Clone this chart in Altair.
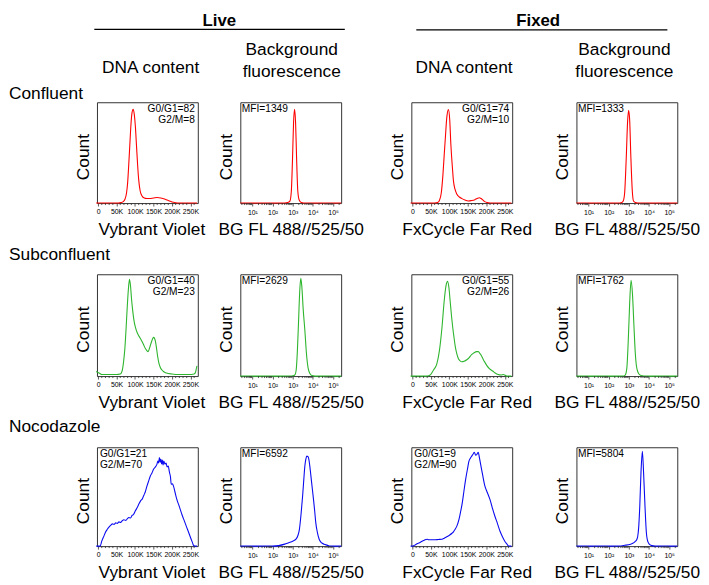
import math
import altair as alt
import pandas as pd

FONT = "Liberation Sans"

# ---------------- labels / text ----------------
ROW_NAMES = ["Confluent", "Subconfluent", "Nocodazole"]
ROW_COLORS = ["#ff0000", "#2db52d", "#0a0af0"]
GROUP_NAMES = ["Live", "Fixed"]
COL_TITLES = [["DNA content"], ["Background", "fluorescence"],
              ["DNA content"], ["Background", "fluorescence"]]
X_TITLES = ["Vybrant Violet", "BG FL 488//525/50", "FxCycle Far Red", "BG FL 488//525/50"]
COL_KIND = ["dna", "bg", "dna", "bg"]
ANNOT = [
    [["G0/G1=82", "G2/M=8"], ["MFI=1349"], ["G0/G1=74", "G2/M=10"], ["MFI=1333"]],
    [["G0/G1=40", "G2/M=23"], ["MFI=2629"], ["G0/G1=55", "G2/M=26"], ["MFI=1762"]],
    [["G0/G1=21", "G2/M=70"], ["MFI=6592"], ["G0/G1=9", "G2/M=90"], ["MFI=5804"]],
]

# ---------------- axes ----------------
DNA_DOMAIN = [-3, 270]          # thousands
BG_DOMAIN = [0.4, 5.4]          # decades (log10)
DNA_TICKS = [0, 50, 100, 150, 200, 250]
DNA_MINOR = [v for v in range(10, 270, 10) if v % 50 != 0]
BG_TICKS = [1, 2, 3, 4, 5]
BG_MINOR = [round(d + math.log10(m), 4) for d in range(0, 6) for m in range(2, 10)
            if BG_DOMAIN[0] <= d + math.log10(m) <= BG_DOMAIN[1]]

# ---------------- histogram data (x: K or decades, y: % of max height) ----------------
# Confluent
x_conf_live_dna = [-5, 0, 55, 62, 68, 73, 77, 80, 83, 86, 89, 92, 95, 98, 101, 104, 107, 110, 114, 119,
                   125, 132, 140, 150, 160, 170, 180, 190, 200, 210, 220, 268]
y_conf_live_dna = [0, 0, 0, 0.5, 1.5, 4, 10, 20, 38, 58, 78, 90, 93, 88, 76, 57, 38, 23, 12, 7,
                   5, 4.5, 4.5, 5, 5.5, 5, 4, 2.5, 1, 0.3, 0, 0]
x_conf_live_bg = [0.4, 2.6, 2.75, 2.86, 2.93, 2.99, 3.04, 3.09, 3.14, 3.19, 3.25, 3.32, 3.42, 3.55, 5.4]
y_conf_live_bg = [0, 0, 0.5, 2, 12, 45, 80, 93, 80, 45, 12, 3, 0.5, 0, 0]
x_conf_fix_dna = [-5, 0, 60, 68, 73, 78, 82.5, 86, 89.5, 93, 97.5, 101, 104, 108, 111, 115, 120, 127, 134, 142,
                  151, 160, 169, 175, 181, 186, 192, 197, 202, 210, 268]
y_conf_fix_dna = [0, 0, 0, 0.5, 2.5, 10, 28, 48, 67, 85, 92.7, 82, 58, 36, 22, 14, 9, 6, 4.4, 3,
                  2, 2.5, 3.4, 4.5, 5.3, 4.5, 2.6, 1.2, 0.5, 0, 0]
x_conf_fix_bg = [0.4, 2.55, 2.65, 2.72, 2.79, 2.87, 2.94, 2.99, 3.04, 3.1, 3.17, 3.23, 3.32, 3.45, 5.4]
y_conf_fix_bg = [0, 0, 0.5, 2, 10, 45, 82, 92, 82, 45, 12, 2, 0.5, 0, 0]

# Subconfluent
x_sub_live_dna = [-5, 0, 5, 10, 20, 35, 50, 60, 65, 69, 72.5, 76, 79, 82, 85, 88, 90.5, 93.5, 97, 101,
                  106, 111, 117.5, 123, 128, 132, 135, 138, 141.5, 145, 148, 150.5, 153, 155, 158, 161,
                  164.5, 168.5, 173, 177, 185, 200, 220, 245, 260, 264, 267, 268]
y_sub_live_dna = [4.5, 3.5, 2.5, 1.5, 1.5, 1.5, 1.5, 2, 5, 14, 27, 48, 68, 85, 95, 88, 76, 65, 55, 48,
                  42.5, 39, 35, 31, 27, 25, 24, 26, 30, 34, 37, 38, 37, 34.5, 28, 20,
                  13, 8.5, 6, 4.5, 3, 2, 1.5, 1.5, 2, 4, 9, 10]
x_sub_live_bg = [0.4, 2.9, 3.0, 3.1, 3.17, 3.23, 3.29, 3.35, 3.40, 3.45, 3.52, 3.6, 3.68, 3.76, 3.85, 3.95, 4.1, 5.4]
y_sub_live_bg = [0, 0, 0.3, 1, 6, 25, 55, 85, 96, 88, 65, 45, 22, 8, 2.5, 0.5, 0, 0]
x_sub_fix_dna = [-5, 0, 40, 48, 57, 66, 73, 80, 86, 91, 95, 99, 102, 105.5, 109, 112.5, 116, 120, 124.5, 129,
                 133.6, 140, 147, 153, 160, 167, 174, 178.5, 183, 187.5, 192, 197, 202, 209, 217, 224, 232,
                 240, 246, 250, 255, 268]
y_sub_fix_dna = [0, 0, 0, 1, 6, 12, 25, 48, 74, 89, 93, 86, 74, 60, 48, 38, 29, 22, 17, 15,
                 14, 14.5, 16, 18, 21, 23, 24, 24, 22, 19.5, 16, 13, 10, 7, 5, 3, 1.5,
                 1, 1.5, 1, 0, 0]
x_sub_fix_bg = [0.4, 2.7, 2.82, 2.9, 2.97, 3.04, 3.11, 3.18, 3.25, 3.32, 3.4, 3.5, 3.6, 3.7, 3.8, 5.4]
y_sub_fix_bg = [0, 0, 1, 8, 35, 72, 94, 80, 50, 22, 7, 2, 0.5, 0.2, 0, 0]

# Nocodazole
x_noc_live_dna = [-5, 0, 5.4, 10, 16, 20, 25, 30, 34, 39, 43, 48, 52, 56.5, 61, 65, 70, 75, 80, 83,
                  88, 92, 96, 101, 106, 111, 115, 120, 124, 128, 132.5, 137, 141.5, 146, 150.5, 155,
                  159.5, 162, 164, 166, 168, 170, 172, 174, 176, 178, 181, 184, 187, 190, 193, 196,
                  198, 201, 204, 208, 213, 220, 227, 234, 240, 246, 252, 256, 258, 262, 268]
y_noc_live_dna = [0, 0, 0, 5, 10.4, 14, 17, 19.5, 21, 22.5, 22, 23.5, 23, 24.5, 24, 25.5, 26.6, 26, 28, 29,
                  28.5, 31, 32, 35.7, 39, 43, 45.8, 48, 51.5, 55, 61, 66, 71, 74, 78, 80,
                  83, 86, 84, 89.6, 85, 88, 83, 87, 82, 86, 83, 84, 80, 81, 75, 70,
                  62.6, 63, 61, 55, 47.5, 40, 32, 25, 19, 13, 7, 3, 1, 0, 0]
x_noc_live_bg = [0.4, 2.0, 2.3, 2.6, 2.8, 3.0, 3.16, 3.26, 3.33, 3.41, 3.49, 3.55, 3.6, 3.65, 3.70,
                 3.75, 3.78, 3.84, 3.9, 3.97, 4.03, 4.09, 4.14, 4.22, 4.31, 4.42, 4.55, 4.7, 4.86, 5.4]
y_noc_live_bg = [0, 0, 0.5, 2, 3.5, 5, 7, 11, 17, 32, 51, 68, 81, 88, 91,
                 90.5, 89.5, 82, 71, 58, 47, 35, 24, 14, 7, 3.5, 2, 1, 0, 0]
x_noc_fix_dna = [-5, 0, 6, 12.5, 19, 26, 32, 39.5, 44, 48.4, 55, 62, 70, 80, 86, 93, 100, 107, 111, 115.6,
                 121, 126, 130.5, 135, 139.5, 144, 148.5, 153, 157, 160.5, 164, 167.5, 171, 174, 176, 178,
                 181.5, 185.5, 190, 196, 203, 210, 216, 223, 230, 236.6, 243, 250, 255, 260.8, 268]
y_noc_fix_dna = [0, 0, 1, 2.4, 3.5, 5, 6, 7, 6.5, 6.4, 6.5, 6.4, 6.7, 7, 8, 9.4, 11, 13, 14.5, 17,
                 21, 27, 35, 44, 56, 67.5, 77, 86, 89, 91, 93, 95, 92, 92.5, 94, 95,
                 89, 81, 72, 61, 54, 47, 39, 30.5, 23, 15.5, 10, 5, 2.5, 0, 0]
x_noc_fix_bg = [0.4, 2.5, 2.8, 3.08, 3.25, 3.33, 3.4, 3.44, 3.49, 3.54, 3.6, 3.67, 3.73, 3.8, 3.87, 3.92,
                3.98, 4.06, 4.14, 4.3, 5.4]
y_noc_fix_bg = [0, 0, 0.8, 2, 3.5, 5, 7, 10, 20, 40, 74, 96, 74, 40, 13, 6, 3, 1.2, 0.5, 0, 0]

CURVES = [
    [(x_conf_live_dna, y_conf_live_dna), (x_conf_live_bg, y_conf_live_bg),
     (x_conf_fix_dna, y_conf_fix_dna), (x_conf_fix_bg, y_conf_fix_bg)],
    [(x_sub_live_dna, y_sub_live_dna), (x_sub_live_bg, y_sub_live_bg),
     (x_sub_fix_dna, y_sub_fix_dna), (x_sub_fix_bg, y_sub_fix_bg)],
    [(x_noc_live_dna, y_noc_live_dna), (x_noc_live_bg, y_noc_live_bg),
     (x_noc_fix_dna, y_noc_fix_dna), (x_noc_fix_bg, y_noc_fix_bg)],
]

# ---------------- layout ----------------
W = 102
ROW_H = [102, 103, 100]
COL_GAPS = [43, 71, 65]
ROW_GAP = 72
XTITLE_DX = [4, 0, 5, 0]
COLTITLE_X = [54.3, 52, 53.3, 48.5]
ROWLABEL_Y = [-3.3, -14.2, -15.3]
BOX = "#333333"

one = pd.DataFrame({"k": [0]})


def text_layer(txt, x, y, size, align="left", weight="normal"):
    return alt.Chart(one).mark_text(
        text=txt, align=align, baseline="alphabetic", font=FONT, fontSize=size,
        fontWeight=weight, color="black"
    ).encode(x=alt.value(x), y=alt.value(y))


def make_panel(r, c):
    xs, ys = CURVES[r][c]
    h = ROW_H[r]
    kind = COL_KIND[c]
    df = pd.DataFrame({"x": xs, "y": ys})
    if kind == "dna":
        xscale = alt.Scale(domain=DNA_DOMAIN, nice=False, zero=False)
        vals = DNA_TICKS
        lab = "datum.value == 0 ? '0' : datum.value + 'K'"
        minor = DNA_MINOR
        lpad = 1.5
    else:
        xscale = alt.Scale(domain=BG_DOMAIN, nice=False, zero=False)
        vals = BG_TICKS
        lab = "'10' + ['\u2070','\u00b9','\u00b2','\u00b3','\u2074','\u2075'][datum.value]"
        minor = BG_MINOR
        lpad = 2.5
    xaxis = alt.Axis(
        values=vals, labelExpr=lab, labelFont=FONT, labelFontSize=7, labelColor="black",
        labelPadding=lpad, labelOverlap=False, labelFlush=False, tickSize=3, tickColor=BOX,
        tickWidth=0.8, domain=False, grid=False,
        title=X_TITLES[c], titleFont=FONT, titleFontSize=17.5, titleFontWeight="normal",
        titleColor="black", titleX=W / 2 + XTITLE_DX[c], titleY=32, titleAlign="center",
        titleBaseline="alphabetic",
    )
    yaxis = alt.Axis(
        labels=False, ticks=False, domain=False, grid=False, title="Count", titleFont=FONT,
        titleFontSize=17.5, titleFontWeight="normal", titleColor="black", titleAngle=270,
        titleX=-9, titleY=h / 2 + 4, titleAlign="center", titleBaseline="alphabetic",
    )
    line = alt.Chart(df).mark_line(
        color=ROW_COLORS[r], strokeWidth=1.1, interpolate="monotone"
    ).encode(
        x=alt.X("x:Q", scale=xscale, axis=xaxis),
        y=alt.Y("y:Q", scale=alt.Scale(domain=[0, 100], nice=False, zero=True), axis=yaxis),
    )
    # minor ticks share the same x scale and axis definition
    ticks = alt.Chart(pd.DataFrame({"m": minor})).mark_rule(color=BOX, strokeWidth=0.8).encode(
        x=alt.X("m:Q", scale=xscale, axis=xaxis),
        y=alt.value(h), y2=alt.value(h + 2),
    )
    layers = [line, ticks]

    # annotation
    lines = ANNOT[r][c]
    if kind == "dna" and r < 2:
        ax, al = W - 3, "right"
    elif kind == "dna":
        ax, al = 3, "left"
    else:
        ax, al = 1.5, "left"
    for i, t in enumerate(lines):
        layers.append(text_layer(t, ax, 9.4 + 12 * i, 10.3, align=al))

    # column headers (top row)
    if r == 0:
        tl = COL_TITLES[c]
        if len(tl) == 1:
            layers.append(text_layer(tl[0], COLTITLE_X[c], -29.7, 17.5, align="center"))
        else:
            layers.append(text_layer(tl[0], COLTITLE_X[c], -47.3, 17.5, align="center"))
            layers.append(text_layer(tl[1], COLTITLE_X[c], -25.3, 17.5, align="center"))
        if c == 0:
            layers.append(text_layer(GROUP_NAMES[0], 123.8, -77.5, 17, align="center", weight="bold"))
            layers.append(alt.Chart(one).mark_rule(color="black", strokeWidth=1.3).encode(
                x=alt.value(-2.7), x2=alt.value(250.7), y=alt.value(-73.7)))
        if c == 2:
            layers.append(text_layer(GROUP_NAMES[1], 128.3, -77.5, 17, align="center", weight="bold"))
            layers.append(alt.Chart(one).mark_rule(color="black", strokeWidth=1.3).encode(
                x=alt.value(5), x2=alt.value(259), y=alt.value(-73.2)))
    # row labels (first column)
    if c == 0:
        layers.append(text_layer(ROW_NAMES[r], -89, ROWLABEL_Y[r], 17.5, align="left"))

    return alt.layer(*layers).properties(
        width=W, height=h, view=alt.ViewBackground(stroke=BOX, strokeWidth=1)
    )


def spacer(wd):
    return alt.Chart(one).mark_point(opacity=0).encode(
        x=alt.value(0), y=alt.value(0)
    ).properties(width=wd, height=10)


cells = []
for r in range(3):
    for c in range(4):
        cells.append(make_panel(r, c))
        if c < 3:
            cells.append(spacer(COL_GAPS[c]))

chart = alt.concat(
    *cells, columns=7, spacing={"row": ROW_GAP, "column": 0}, bounds="flush", align="each"
).properties(padding=0).configure(
    font=FONT, view=alt.ViewConfig(stroke="transparent")
)

chart.save("out.html", embed_options={"renderer": "svg", "actions": False})
